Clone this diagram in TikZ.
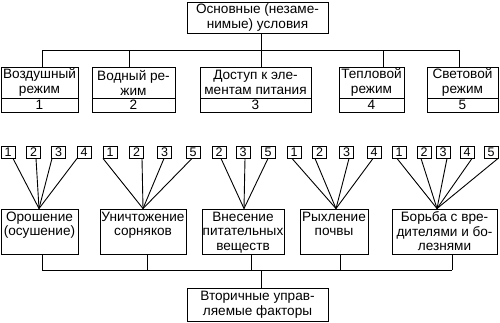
\documentclass[tikz,border=0pt]{standalone}
\usepackage{fontspec}
\setmainfont{Liberation Sans}
\begin{document}
\begin{tikzpicture}[x=1pt,y=-1pt,
  box/.style={draw, line width=0.9pt, inner sep=0pt, align=center, font=\fontsize{13.6}{15}\selectfont},
  num/.style={draw, line width=0.9pt, minimum width=14pt, minimum height=12pt, inner sep=0pt, font=\fontsize{12.5}{14}\selectfont},
  txt/.style={align=center, inner sep=0pt, anchor=north, font=\fontsize{13.6}{14.5}\selectfont},
  wire/.style={line width=0.9pt}]
\useasboundingbox (0,0) rectangle (500,322);
% top
\node[box, minimum width=141pt, minimum height=31pt] (T) at (257.5,17.5) {Основные (незаме-\\нимые) условия};
% primary boxes
\node[box, minimum width=77pt, minimum height=31pt] (B1) at (39.5,82.5) {Воздушный\\режим};
\node[box, minimum width=77pt, minimum height=14pt] (N1) at (39.5,105) {1};
\node[box, minimum width=83pt, minimum height=31pt] (B2) at (133.5,82.5) {Водный ре-\\жим};
\node[box, minimum width=83pt, minimum height=14pt] (N2) at (133.5,105) {2};
\node[box, minimum width=111pt, minimum height=31pt] (B3) at (255.5,82.5) {Доступ к эле-\\ментам питания};
\node[box, minimum width=111pt, minimum height=14pt] (N3) at (255.5,105) {3};
\node[box, minimum width=65pt, minimum height=31pt] (B4) at (371.5,82.5) {Тепловой\\режим};
\node[box, minimum width=65pt, minimum height=14pt] (N4) at (371.5,105) {4};
\node[box, minimum width=71pt, minimum height=31pt] (B5) at (462.5,82.5) {Световой\\режим};
\node[box, minimum width=71pt, minimum height=14pt] (N5) at (462.5,105) {5};
% top connectors
\coordinate (t0) at (261,50);
\coordinate (d1) at (42,50);
\coordinate (d2) at (129,50);
\coordinate (d4) at (383,50);
\coordinate (d5) at (459,50);
\draw[wire] (t0 |- T.south) -- (t0 |- B3.north);
\draw[wire] (d1) -- (d5);
\draw[wire] (d1) -- (d1 |- B1.north);
\draw[wire] (d2) -- (d2 |- B2.north);
\draw[wire] (d4) -- (d4 |- B4.north);
\draw[wire] (d5) -- (d5 |- B5.north);
% small boxes
\node[num] (a1) at (8,152) {1};
\node[num] (a2) at (33.5,152) {2};
\node[num] (a3) at (58.5,152) {3};
\node[num] (a4) at (84,152) {4};
\node[num] (b1) at (110,152) {1};
\node[num] (b2) at (136.5,152) {2};
\node[num] (b3) at (164.5,152) {3};
\node[num] (b5) at (193,152) {5};
\node[num] (c2) at (219,152) {2};
\node[num] (c3) at (243,152) {3};
\node[num] (c5) at (268,152) {5};
\node[num] (e1) at (294,152) {1};
\node[num] (e2) at (319.5,152) {2};
\node[num] (e3) at (346.5,152) {3};
\node[num] (e4) at (374,152) {4};
\node[num] (f1) at (399,152) {1};
\node[num] (f2) at (424,152) {2};
\node[num] (f3) at (443,152) {3};
\node[num] (f4) at (467,152) {4};
\node[num] (f5) at (491,152) {5};
% lower boxes
\node[box, minimum width=77pt, minimum height=45pt] (A) at (39.5,231.5) {};
\node[txt] (At) at (39.5,211.5) {Орошение\\(осушение)};
\node[box, minimum width=86pt, minimum height=45pt] (B) at (143,231.5) {};
\node[txt] (Bt) at (143,211.5) {Уничтожение\\сорняков};
\node[box, minimum width=82pt, minimum height=45pt] (C) at (243,231.5) {};
\node[txt] (Ct) at (243,211.5) {Внесение\\питательных\\веществ};
\node[box, minimum width=68pt, minimum height=45pt] (D) at (334,231.5) {};
\node[txt] (Dt) at (334,211.5) {Рыхление\\почвы};
\node[box, minimum width=105pt, minimum height=45pt] (E) at (444.5,231.5) {};
\node[txt] (Et) at (444.5,211.5) {Борьба с вре-\\дителями и бо-\\лезнями};
% fan-in
\coordinate (cA) at ([xshift=-0.5pt]A.north);
\coordinate (cB) at (B.north);
\coordinate (cC) at ([xshift=1pt]C.north);
\coordinate (cD) at ([xshift=2pt]D.north);
\coordinate (cE) at ([xshift=-7.5pt]E.north);
\draw[wire] ([xshift=5pt]a1.south) -- (cA);
\draw[wire] ([xshift=2.5pt]a2.south) -- (cA);
\draw[wire] ([xshift=-6.5pt]a3.south) -- (cA);
\draw[wire] ([xshift=-7pt]a4.south) -- (cA);
\draw[wire] ([xshift=-7pt]b1.south) -- (cB);
\draw[wire] ([xshift=5.5pt]b2.south) -- (cB);
\draw[wire] ([xshift=-0.5pt]b3.south) -- (cB);
\draw[wire] ([xshift=-1pt]b5.south) -- (cB);
\draw[wire] ([xshift=2pt]c2.south) -- (cC);
\draw[wire] ([xshift=2pt]c3.south) -- (cC);
\draw[wire] (c5.south) -- (cC);
\draw[wire] ([xshift=-2pt]e1.south) -- (cD);
\draw[wire] ([xshift=-4.5pt]e2.south) -- (cD);
\draw[wire] ([xshift=2.5pt]e3.south) -- (cD);
\draw[wire] ([xshift=-1pt]e4.south) -- (cD);
\draw[wire] ([xshift=-2pt]f1.south) -- (cE);
\draw[wire] ([xshift=-3pt]f2.south) -- (cE);
\draw[wire] ([xshift=4pt]f3.south) -- (cE);
\draw[wire] ([xshift=5pt]f4.south) -- (cE);
\draw[wire] ([xshift=7pt]f5.south) -- (cE);
% bottom
\node[box, minimum width=141pt, minimum height=33pt] (F) at (257.5,304.5) {Вторичные управ-\\ляемые факторы};
\coordinate (u1) at (42,270);
\coordinate (u2) at (147,270);
\coordinate (u3) at (251,270);
\coordinate (u4) at (340,270);
\coordinate (u5) at (452,270);
\coordinate (u0) at (261,270);
\draw[wire] (u1) -- (u5);
\draw[wire] (u1 |- A.south) -- (u1);
\draw[wire] (u2 |- B.south) -- (u2);
\draw[wire] (u3 |- C.south) -- (u3);
\draw[wire] (u4 |- D.south) -- (u4);
\draw[wire] (u5 |- E.south) -- (u5);
\draw[wire] (u0) -- (u0 |- F.north);
\end{tikzpicture}
\end{document}
